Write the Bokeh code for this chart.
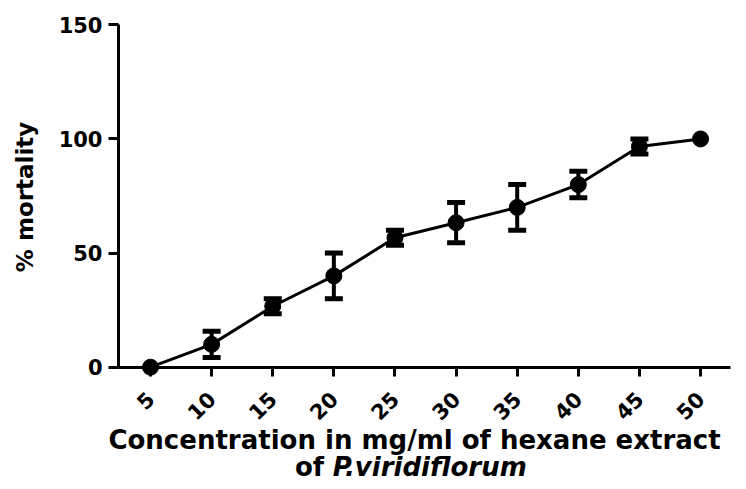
import math
from bokeh.plotting import figure
from bokeh.models import Range1d, FixedTicker, Whisker, TeeHead, ColumnDataSource, Label
from bokeh.embed import file_html
from bokeh.resources import INLINE

# ---- data ----
concentration = [5, 10, 15, 20, 25, 30, 35, 40, 45, 50]
mortality = [0, 10, 26.7, 40, 56.7, 63.3, 70, 80, 96.7, 100]
error = [0, 5.8, 3.3, 10, 3.3, 8.8, 10, 5.8, 3.3, 0]
y_ticks = [0, 50, 100, 150]
x_title = "Concentration in mg/ml of hexane extract"
x_title_2a = "of"
x_title_2b = "P.viridiflorum"
y_title = "% mortality"

FONT = "DejaVu Sans"

# the frame covers the whole canvas; axes are placed at fixed data locations
p = figure(width=746, height=489, output_backend="svg", toolbar_location=None,
           x_range=Range1d(-7.273, 53.76), y_range=Range1d(-53.58, 160.65),
           min_border_left=0, min_border_right=0, min_border_top=0, min_border_bottom=0)
p.outline_line_color = None
p.xgrid.visible = False
p.ygrid.visible = False
p.background_fill_color = "white"
p.border_fill_color = "white"

for ax in (p.xaxis, p.yaxis):
    ax.axis_line_width = 3
    ax.axis_line_color = "black"
    ax.major_tick_line_width = 3
    ax.major_tick_line_color = "black"
    ax.major_tick_in = 0
    ax.minor_tick_line_color = None
    ax.major_label_text_font = FONT
    ax.major_label_text_font_style = "bold"
    ax.major_label_text_font_size = "21px"
    ax.major_label_text_color = "black"
    ax.axis_label = None

p.yaxis.ticker = FixedTicker(ticks=y_ticks)
p.yaxis.fixed_location = 2.38
p.yaxis.bounds = (0, 150)
p.yaxis.major_tick_out = 10
p.yaxis.major_label_standoff = 6

p.xaxis.ticker = FixedTicker(ticks=concentration)
p.xaxis.fixed_location = 0
p.xaxis.bounds = (2.38, 52.45)
p.xaxis.major_tick_out = 9
p.xaxis.major_label_orientation = math.pi / 4
p.xaxis.major_label_standoff = 19

# error bars (only where there is an error)
idx = [i for i, e in enumerate(error) if e > 0]
src_err = ColumnDataSource(dict(
    x=[concentration[i] for i in idx],
    upper=[mortality[i] + error[i] for i in idx],
    lower=[mortality[i] - error[i] for i in idx],
))
wh = Whisker(source=src_err, base="x", upper="upper", lower="lower",
             line_width=4, line_color="black", level="glyph",
             upper_head=TeeHead(size=18, line_width=5, line_color="black"),
             lower_head=TeeHead(size=18, line_width=5, line_color="black"))
p.add_layout(wh)

p.line(concentration, mortality, line_width=3, line_color="black")
p.scatter(concentration, mortality, size=16, fill_color="black", line_color="black")

# axis titles
p.add_layout(Label(x=-5.27, y=74.6, text=y_title, angle=math.pi / 2,
                   text_align="center", text_baseline="middle",
                   text_font=FONT, text_font_style="bold", text_font_size="23px",
                   text_color="black"))
p.add_layout(Label(x=26.6, y=-32.1, text=x_title,
                   text_align="center", text_baseline="alphabetic",
                   text_font=FONT, text_font_style="bold", text_font_size="26px",
                   text_color="black"))
p.add_layout(Label(x=19.2, y=-43.9, text=x_title_2a,
                   text_align="right", text_baseline="alphabetic",
                   text_font=FONT, text_font_style="bold", text_font_size="26px",
                   text_color="black"))
p.add_layout(Label(x=19.9, y=-43.9, text=x_title_2b,
                   text_align="left", text_baseline="alphabetic",
                   text_font=FONT, text_font_style="bold italic", text_font_size="26px",
                   text_color="black"))

open("out.html", "w").write(file_html(p, INLINE))
